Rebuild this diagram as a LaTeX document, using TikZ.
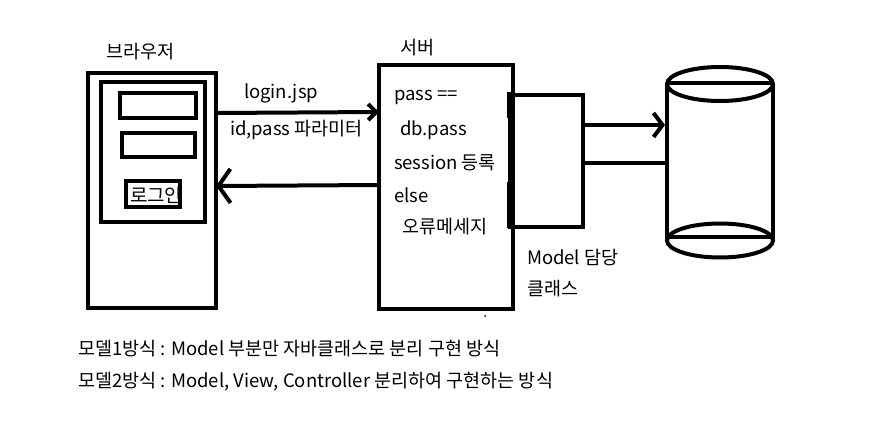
\documentclass[tikz,border=0pt]{standalone}
\usepackage{fontspec}
\setmainfont{Noto Sans CJK KR}
\usetikzlibrary{arrows.meta}
\begin{document}
\begin{tikzpicture}[x=1pt,y=-1pt,line width=4pt,
  box/.style={draw,line width=4pt,inner sep=0pt,outer sep=0pt},
  lbl/.style={anchor=west,inner sep=0pt,font=\fontsize{18.5}{22}\selectfont},
  barb/.style={-{Straight Barb[length=#1]}},
]
\useasboundingbox (0,0) rectangle (886,425);
% browser
\node[box,minimum width=128pt,minimum height=235pt] (browser) at (152,190.5) {};
\node[box,minimum width=104pt,minimum height=140pt] (screen) at (153,152) {};
\node[box,minimum width=76pt,minimum height=25pt] (idf) at (158,105.5) {};
\node[box,minimum width=73pt,minimum height=24pt] (pwf) at (158.5,145) {};
\node[box,minimum width=54pt,minimum height=26pt] (btn) at (153,194) {};
\begin{scope}
\clip (128,183) rectangle (178,205);
\node[lbl,font=\fontsize{19}{22}\selectfont] (btntext) at (128,195) {로그인};
\end{scope}
\node[lbl] (browserlbl) at (104,52) {브라우저};
% server
\node[box,minimum width=134pt,minimum height=244pt] (server) at (446,187) {};
\node[lbl] (serverlbl) at (398,48) {서버};
\node[lbl] (s1) at (392,97) {pass ==};
\node[lbl] (s2) at (398,130) {db.pass};
\node[lbl] (s3) at (392,163) {session 등록};
\node[lbl] (s4) at (392,195) {else};
\node[lbl] (s5) at (400,227) {오류메세지};
% model
\node[box,minimum width=73pt,minimum height=132pt] (model) at (546.5,161) {};
\fill (507,92) rectangle (514,118);
\fill (507,182) rectangle (514,228);
\node[lbl] (m1) at (525,258) {Model 담당};
\node[lbl] (m2) at (525,289) {클래스};
% database cylinder
\node[minimum width=106pt,minimum height=190pt,inner sep=0pt] (db) at (720,162) {};
\draw (667,84) -- (667,240);
\draw (773,84) -- (773,240);
\draw (720,84) ellipse [x radius=53, y radius=17];
\draw (667,83) -- (773,83);
\draw (720,240.5) ellipse [x radius=53, y radius=17];
\draw (667,237) -- (773,237);
% connectors
\draw[barb=8pt] (browser.east |- 0,113) -- (server.west |- 0,112);
\node[lbl] (l1) at (242,93) {login.jsp};
\node[lbl] (l2) at (228,130) {id,pass 파라미터};
\draw[-{Straight Barb[length=12pt,width=34pt]}] (server.west |- 0,185) -- (browser.east |- 0,186);
\draw[-{Straight Barb[length=9pt,width=24pt]}] (model.east |- 0,125) -- (db.west |- 0,125);
\draw (model.east |- 0,163) -- (db.west |- 0,163);
\fill (485,316) circle (1);
% notes
\node[lbl] (n1) at (76,349) {모델1방식 : Model 부분만 자바클래스로 분리 구현 방식};
\node[lbl] (n2) at (76,382) {모델2방식 : Model, View, Controller 분리하여 구현하는 방식};
\end{tikzpicture}
\end{document}
